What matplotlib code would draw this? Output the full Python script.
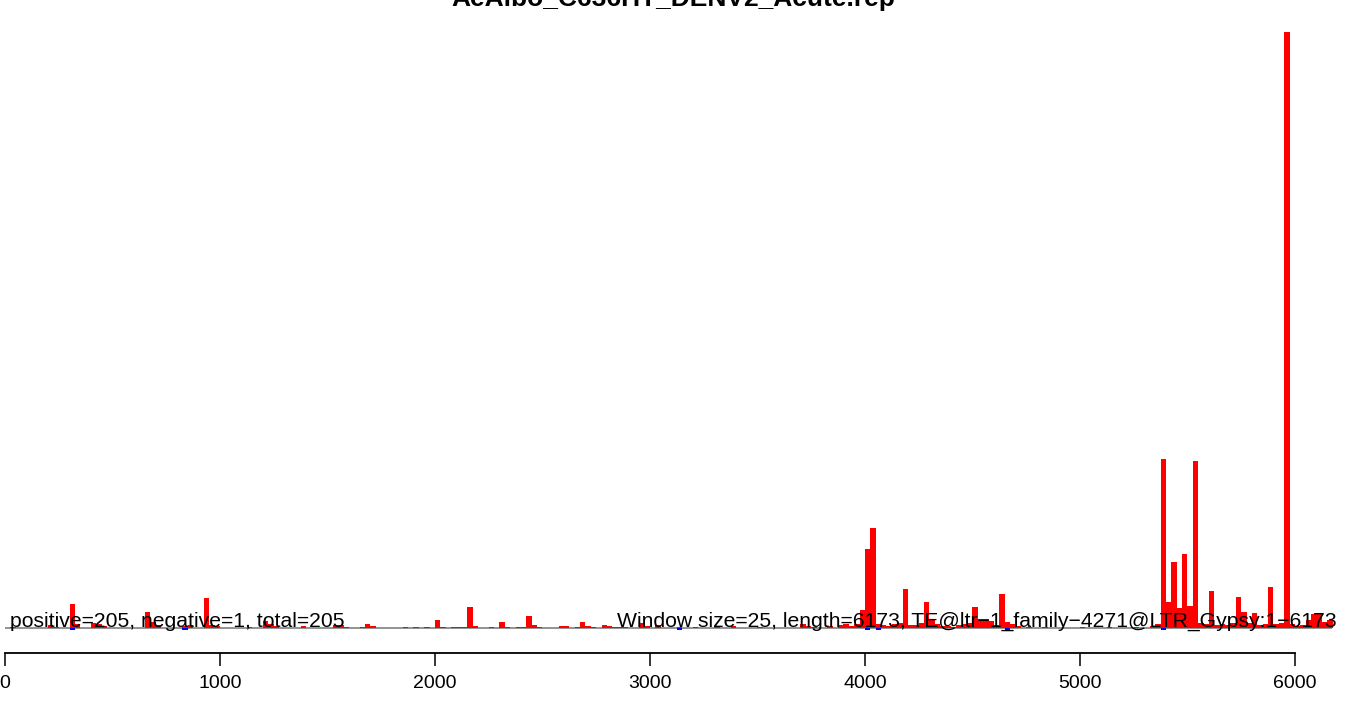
import matplotlib
matplotlib.use("Agg")
import matplotlib.pyplot as plt

plt.rcParams['font.family'] = ['Liberation Sans', 'DejaVu Sans']

# window data (window size 25, sequence length 6173)
title = "AeAlbo_C636HT_DENV2_Acute.rep"
win_size = 25
seq_len = 6173

# window index -> height of the positive-strand signal
pos_idx = [1, 8, 9, 12, 13, 16, 17, 18, 26, 27, 28, 33, 34, 37, 38, 39, 45,
           48, 49, 50, 55, 61, 62, 63, 66, 67, 68, 74, 76, 78, 80, 81, 83, 84,
           85, 86, 87, 90, 92, 93, 95, 96, 97, 98, 99, 103, 104, 106, 107, 108,
           109, 111, 112, 113, 114, 115, 118, 119, 121, 125, 128, 132, 135,
           140, 148, 149, 150, 153, 155, 156, 157, 158, 159, 160, 161, 162,
           163, 164, 165, 166, 167, 168, 169, 170, 171, 172, 173, 174, 175,
           176, 177, 178, 179, 180, 181, 182, 183, 184, 185, 186, 187, 188,
           190, 193, 200, 205, 210, 213, 214, 215, 216, 217, 218, 219, 220,
           221, 222, 223, 224, 225, 226, 227, 228, 229, 230, 231, 232, 233,
           234, 235, 236, 237, 238, 239, 240, 241, 242, 243, 244, 245, 246]
pos_val = [1, 3, 1, 24, 4, 5, 4, 2, 16, 6, 3, 2, 3, 30, 3, 2, 1,
           7, 4, 2, 2, 3, 3, 1, 1, 4, 2, 1, 1, 1, 8, 1, 1, 1,
           1, 21, 2, 1, 6, 1, 1, 1, 12, 3, 1, 2, 2, 1, 6, 2,
           1, 3, 2, 1, 1, 1, 5, 2, 3, 1, 1, 1, 2,
           1, 4, 2, 1, 2, 3, 4, 2, 4, 18, 79, 100, 4,
           3, 2, 4, 5, 39, 3, 3, 5, 26, 8, 4, 2, 2,
           1, 3, 4, 5, 21, 9, 9, 7, 3, 34, 6, 4, 2,
           1, 1, 1, 1, 1, 2, 4, 169, 26, 66, 20, 74, 22,
           167, 5, 4, 37, 3, 4, 3, 5, 31, 16, 5, 15, 3,
           4, 41, 4, 5, 596, 4, 2, 3, 8, 14, 15, 6, 8]

# negative-strand signal (tiny)
neg_idx = [12, 33, 125, 160, 162, 186, 215]
neg_val = [-1.5, -1.5, -1.5, -1.5, -1.5, -1.5, -1.5]

fig = plt.figure(figsize=(13.5, 7.01), dpi=100)
ax = fig.add_axes([0, 0, 1, 1])

ax.bar([i * win_size for i in pos_idx], pos_val, width=win_size,
       align='edge', color='red', linewidth=0)
ax.bar([i * win_size for i in neg_idx], neg_val, width=win_size,
       align='edge', color='blue', linewidth=0)
ax.hlines(0, 0, seq_len, color='gray', lw=1.2, zorder=0)

ax.set_xlim(-23.3, 6256)
ax.set_ylim(-73, 628)

# x axis like R's axis()
for s in ['top', 'right', 'left']:
    ax.spines[s].set_visible(False)
ax.spines['bottom'].set_position(('data', -25))
ax.spines['bottom'].set_bounds(0, 6000)
ax.spines['bottom'].set_linewidth(1.3)
ax.set_xticks(range(0, 6001, 1000))
ax.tick_params(axis='x', direction='out', length=9.5, width=1.1,
               labelsize=14, pad=6)
ax.set_yticks([])
ax.patch.set_visible(False)

ax.text(23, 1, "positive=205, negative=1, total=205", fontsize=15.2,
        ha='left', va='baseline')
ax.text(6195, 1,
        "Window size=25, length=6173, TE@ltr\u22121_family\u22124271@LTR_Gypsy:1\u22126173",
        fontsize=15.2, ha='right', va='baseline')

fig.text(0.4985, 695 / 701, title, fontsize=19, fontweight='bold',
         ha='center', va='baseline')

fig.savefig("out.png", dpi=100)
